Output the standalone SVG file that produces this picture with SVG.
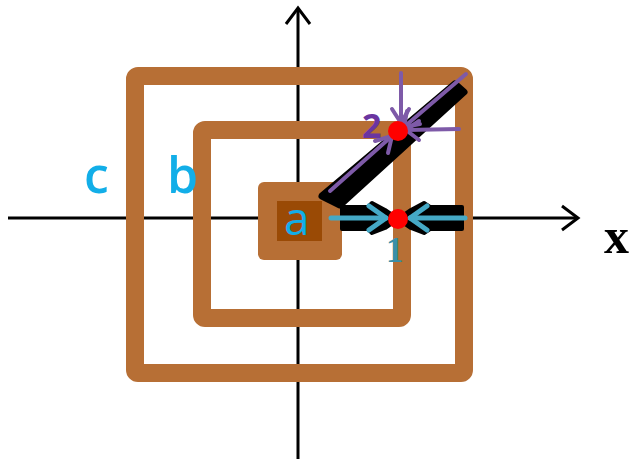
<svg xmlns="http://www.w3.org/2000/svg" width="633" height="459" viewBox="0 0 633 459">
<style>
.sq{fill:none;stroke:#b76f35;stroke-width:18;stroke-linejoin:round}
.ax{stroke:#000;stroke-width:3;fill:none}
.pu{stroke:#7e5aa8;stroke-width:4;fill:none;stroke-linecap:round;stroke-linejoin:round}
.cy{stroke:#45a9c6;stroke-width:5;fill:none;stroke-linecap:round;stroke-linejoin:round}
.lbl{font-family:"Open Sans","DejaVu Sans",sans-serif;fill:#12aee8;font-weight:600}
</style>
<rect width="633" height="459" fill="#fff"/>
<g id="axes">
<line class="ax" x1="8" y1="218" x2="578" y2="218"/>
<polyline class="ax" points="562,206 578,218 562,230"/>
<line class="ax" x1="298" y1="459" x2="298" y2="8"/>
<polyline class="ax" points="286,24 298,8 310,24"/>
<text x="604" y="253" font-family="Liberation Serif,serif" font-weight="bold" font-size="50" fill="#000">x</text>
</g>
<g id="square-c"><rect class="sq" x="135" y="76" width="329" height="297" rx="3"/></g>
<g id="square-b"><rect class="sq" x="202" y="130" width="200" height="188" rx="3"/></g>
<g id="label-c"><text class="lbl" x="84" y="193" font-size="50">c</text></g>
<g id="label-b"><text class="lbl" x="167" y="193" font-size="50">b</text></g>
<g id="square-a">
<rect x="258" y="182" width="84" height="78" rx="6" fill="#b76f35"/>
<rect x="277" y="201" width="45" height="40" fill="#9a4a05"/>
<text class="lbl" x="284" y="235" font-size="46" style="font-weight:400">a</text>
</g>
<g id="connectors">
<path d="M322,196 L455,84 L464,92 L340,205 Z" fill="#000" stroke="#000" stroke-width="7" stroke-linejoin="round"/>
<path d="M342,207 L368,207 L372,203 L385,210 L398,219 L411,210 L424,203 L430,207 L462,207 L462,229 L430,229 L424,233 L411,228 L398,219 L385,228 L372,233 L368,229 L342,229 Z" fill="#000" stroke="#000" stroke-width="4" stroke-linejoin="round"/>
<line class="pu" x1="330" y1="191" x2="392" y2="136"/>
<polyline class="pu" points="375,141 392,136 388,153"/>
<line class="pu" x1="466" y1="74" x2="404" y2="127"/>
<polyline class="pu" points="407,111 404,127 420,124"/>
<line class="pu" x1="401" y1="73" x2="401" y2="123"/>
<polyline class="pu" points="392,109 401,123 409,109"/>
<line class="pu" x1="459" y1="129" x2="406" y2="130"/>
<polyline class="pu" points="419,121 406,130 419,140"/>
<line class="cy" x1="331" y1="218" x2="386" y2="218"/>
<polyline class="cy" points="369,206 386,218 369,230"/>
<line class="cy" x1="465" y1="218" x2="410" y2="218"/>
<polyline class="cy" points="427,206 410,218 427,230"/>
</g>
<g id="point-1">
<circle cx="398" cy="219" r="10" fill="#f00"/>
<text x="386" y="262" font-family="Liberation Serif,serif" font-weight="bold" font-size="35" fill="#3a8fa8">1</text>
</g>
<g id="point-2">
<circle cx="398" cy="131" r="10" fill="#f00"/>
<text x="362" y="138" font-family="Open Sans,sans-serif" font-weight="bold" font-size="34" fill="#6a35a0">2</text>
</g>
</svg>
